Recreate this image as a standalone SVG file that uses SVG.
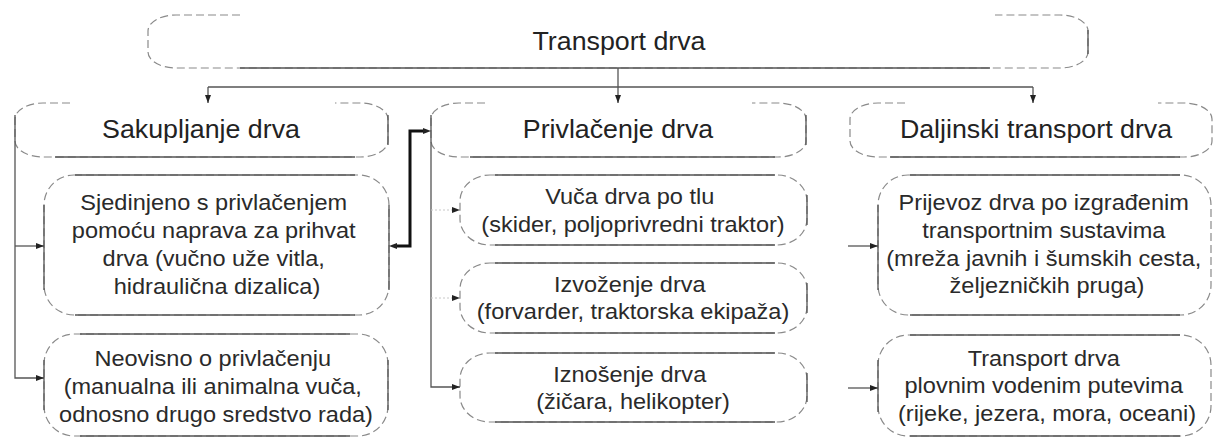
<svg xmlns="http://www.w3.org/2000/svg" width="1214" height="439" viewBox="0 0 1214 439">
<style>
  .dash{fill:none;stroke:#8a8a8a;stroke-width:1.2;stroke-dasharray:8 4}
  .solid{fill:none;stroke:#555;stroke-width:1.3}
  .hdr{font-family:"Liberation Sans",Arial,sans-serif;font-size:26px;fill:#222;text-anchor:middle}
  .sub{font-family:"Liberation Sans",Arial,sans-serif;font-size:22px;fill:#2a2a2a;text-anchor:middle}
  .con{fill:none;stroke:#555;stroke-width:1.3}
  .faint{fill:none;stroke:#c8c8c8;stroke-width:1;stroke-dasharray:2 2}
  .thick{fill:none;stroke:#111;stroke-width:3}
</style>
<defs>
  <marker id="ah" viewBox="0 0 8 6" refX="8" refY="3" markerWidth="8" markerHeight="6" orient="auto-start-reverse" markerUnits="userSpaceOnUse">
    <path d="M0,0 L8,3 L0,6 z" fill="#222"/>
  </marker>
</defs>

<!-- top node -->
<g id="n-top">
  <path class="dash" d="M240 15 H176 A28 16 0 0 0 148 31 V52 A28 16 0 0 0 176 68 H1060 A28 16 0 0 0 1088 52 V31 A28 16 0 0 0 1060 15 H995"/>
  <path class="solid" d="M240 68 H990 M1088 30 V54"/>
  <text class="hdr" transform="translate(619 0) scale(1.03 1)" x="0" y="50">Transport drva</text>
</g>

<!-- header nodes -->
<g id="n-sakupljanje">
  <path class="dash" d="M70 103 H43 A28 16 0 0 0 15 119 V141 A28 16 0 0 0 43 157 H360 A28 16 0 0 0 388 141 V119 A28 16 0 0 0 360 103 H335"/>
  <path class="solid" d="M55 157 H355 M15 115 V150 M388 115 V145"/>
  <text class="hdr" transform="translate(201 0) scale(1.03 1)" x="0" y="138">Sakupljanje drva</text>
</g>
<g id="n-privlacenje">
  <path class="dash" d="M485 103 H459 A28 16 0 0 0 431 119 V141 A28 16 0 0 0 459 157 H778 A28 16 0 0 0 806 141 V119 A28 16 0 0 0 778 103 H752"/>
  <path class="solid" d="M470 157 H775 M431 115 V157 M806 115 V145"/>
  <text class="hdr" transform="translate(618 0) scale(1.03 1)" x="0" y="138">Privlačenje drva</text>
</g>
<g id="n-daljinski">
  <path class="dash" d="M905 103 H878 A28 16 0 0 0 850 119 V141 A28 16 0 0 0 878 157 H1184 A28 16 0 0 0 1212 141 V119 A28 16 0 0 0 1184 103 H1158"/>
  <path class="solid" d="M890 157 H1180"/>
  <text class="hdr" transform="translate(1036 0) scale(1.03 1)" x="0" y="138">Daljinski transport drva</text>
</g>

<!-- sub nodes, left column -->
<g id="n-sjedinjeno">
  <rect class="dash" x="44" y="175" width="345" height="140" rx="30" ry="30"/>
  <path class="solid" d="M75 175 H355 M75 315 H355 M44 205 V290 M389 205 V290"/>
  <text class="sub" transform="translate(217 0) scale(1.07 1)">
    <tspan x="0" y="210">Sjedinjeno s privlačenjem</tspan>
    <tspan x="0" y="238">pomoću naprava za prihvat</tspan>
    <tspan x="0" y="266">drva (vučno uže vitla,</tspan>
    <tspan x="0" y="294">hidraulična dizalica)</tspan>
  </text>
</g>
<g id="n-neovisno">
  <rect class="dash" x="44" y="334" width="344" height="102" rx="30" ry="30"/>
  <path class="solid" d="M80 334 H350 M80 436 H350 M44 360 V410 M388 360 V410"/>
  <text class="sub" transform="translate(216 0) scale(1.07 1)">
    <tspan x="0" y="366">Neovisno o privlačenju</tspan>
    <tspan x="0" y="394">(manualna ili animalna vuča,</tspan>
    <tspan x="0" y="422">odnosno drugo sredstvo rada)</tspan>
  </text>
</g>

<!-- sub nodes, middle column -->
<g id="n-vuca">
  <rect class="dash" x="460" y="175" width="347" height="70" rx="30" ry="26"/>
  <path class="solid" d="M495 175 H775 M495 245 H775 M807 195 V225"/>
  <text class="sub" transform="translate(633 0) scale(1.07 1)">
    <tspan x="0" y="204">Vuča drva po tlu</tspan>
    <tspan x="0" y="232">(skider, poljoprivredni traktor)</tspan>
  </text>
</g>
<g id="n-izvozenje">
  <rect class="dash" x="460" y="263" width="347" height="70" rx="30" ry="26"/>
  <path class="solid" d="M495 263 H775 M495 333 H775 M807 283 V313"/>
  <text class="sub" transform="translate(633 0) scale(1.07 1)">
    <tspan x="0" y="292">Izvoženje drva</tspan>
    <tspan x="0" y="319">(forvarder, traktorska ekipaža)</tspan>
  </text>
</g>
<g id="n-iznosenje">
  <rect class="dash" x="460" y="353" width="347" height="69" rx="30" ry="26"/>
  <path class="solid" d="M495 353 H775 M495 422 H775 M807 373 V402"/>
  <text class="sub" transform="translate(633 0) scale(1.07 1)">
    <tspan x="0" y="382">Iznošenje drva</tspan>
    <tspan x="0" y="409">(žičara, helikopter)</tspan>
  </text>
</g>

<!-- sub nodes, right column -->
<g id="n-prijevoz">
  <rect class="dash" x="878" y="175" width="333" height="140" rx="30" ry="30"/>
  <path class="solid" d="M910 175 H1180 M910 315 H1180 M878 205 V290"/>
  <text class="sub" transform="translate(1047 0) scale(1.07 1)">
    <tspan x="0" y="210">Prijevoz drva po izgrađenim</tspan>
    <tspan x="0" y="238">transportnim sustavima</tspan>
    <tspan x="0" y="266">(mreža javnih i šumskih cesta,</tspan>
    <tspan x="0" y="293">željezničkih pruga)</tspan>
  </text>
</g>
<g id="n-plovni">
  <rect class="dash" x="878" y="335" width="333" height="101" rx="30" ry="30"/>
  <path class="solid" d="M910 335 H1180 M910 436 H1180 M878 360 V412"/>
  <text class="sub" transform="translate(1047 0) scale(1.07 1)">
    <tspan x="0" y="366">Transport drva</tspan>
    <tspan x="0" y="393">plovnim vodenim putevima</tspan>
    <tspan x="0" y="421">(rijeke, jezera, mora, oceani)</tspan>
  </text>
</g>

<!-- connectors -->
<g id="connectors">
  <path class="con" d="M618 68 V103" marker-end="url(#ah)"/>
  <path class="con" d="M208 87 H1033"/>
  <path class="con" d="M208 87 V103" marker-end="url(#ah)"/>
  <path class="con" d="M1033 87 V103" marker-end="url(#ah)"/>

  <path class="con" d="M15 150 V378 H44" marker-end="url(#ah)"/>
  <path class="con" d="M15 246 H44" marker-end="url(#ah)"/>

  <path class="con" d="M431 157 V387 H460" marker-end="url(#ah)"/>
  <path class="faint" d="M431 210 H452"/>
  <path class="faint" d="M431 298 H452"/>
  <path d="M452 210 H460" fill="none" stroke="none" marker-end="url(#ah)"/>
  <path d="M452 298 H460" fill="none" stroke="none" marker-end="url(#ah)"/>

  <path class="con" d="M848 246 H878" marker-end="url(#ah)"/>
  <path class="con" d="M848 388 H878" marker-end="url(#ah)"/>

  <path class="thick" d="M397 246 H410 V131 H423"/>
  <path d="M395 246 H389" fill="none" stroke="none" marker-end="url(#ah)"/>
  <path d="M425 131 H431" fill="none" stroke="none" marker-end="url(#ah)"/>
</g>
</svg>
